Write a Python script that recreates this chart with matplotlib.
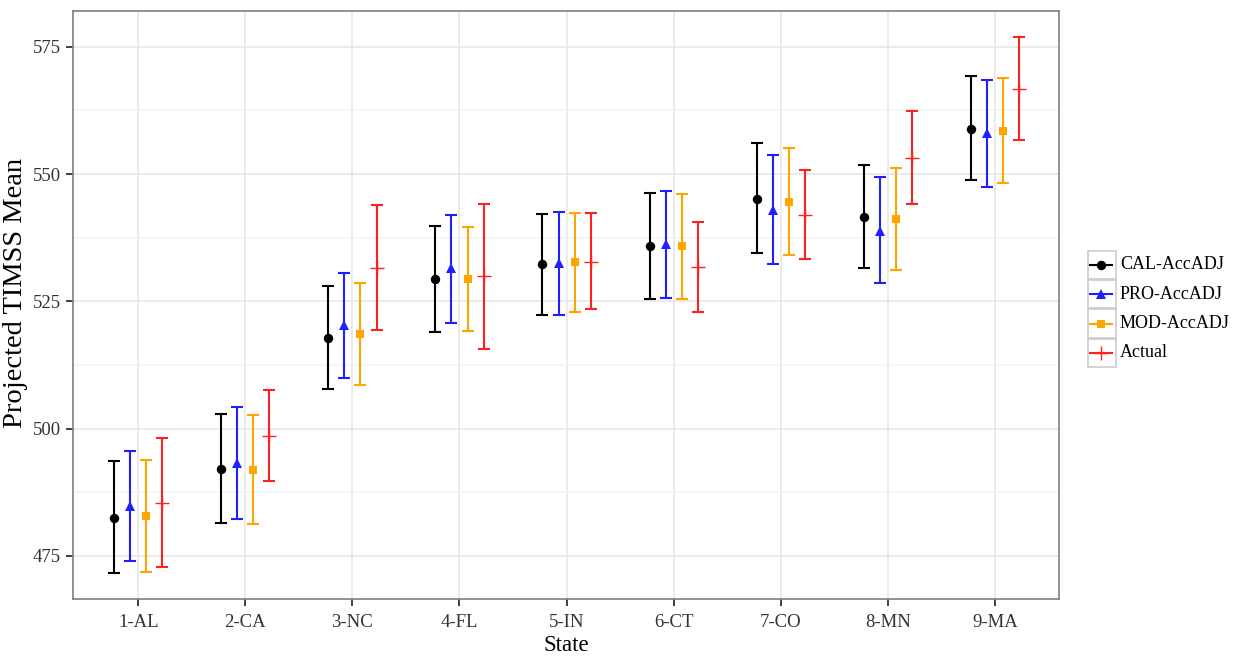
import matplotlib
matplotlib.use("Agg")
import matplotlib.pyplot as plt
from matplotlib.patches import Rectangle
from matplotlib.lines import Line2D
import numpy as np

plt.rcParams['font.family'] = ['Liberation Serif', 'DejaVu Serif']

states = ['1-AL', '2-CA', '3-NC', '4-FL', '5-IN', '6-CT', '7-CO', '8-MN', '9-MA']

# projected means with lower / upper interval ends
cal_mean = [482.5, 492.1, 517.8, 529.4, 532.3, 535.8, 545.1, 541.6, 558.9]
cal_low = [471.7, 481.5, 507.8, 518.9, 522.4, 525.5, 534.5, 531.5, 548.8]
cal_high = [493.6, 502.9, 528.1, 539.8, 542.1, 546.2, 556.1, 551.8, 569.3]

pro_mean = [484.7, 493.3, 520.4, 531.5, 532.5, 536.2, 543.0, 538.9, 558.0]
pro_low = [473.9, 482.2, 509.9, 520.8, 522.4, 525.7, 532.4, 528.5, 547.5]
pro_high = [495.5, 504.3, 530.5, 541.9, 542.5, 546.7, 553.8, 549.4, 568.4]

mod_mean = [482.9, 491.8, 518.6, 529.4, 532.7, 535.8, 544.5, 541.2, 558.5]
mod_low = [471.9, 481.3, 508.6, 519.1, 522.8, 525.5, 534.0, 531.1, 548.3]
mod_high = [493.8, 502.7, 528.6, 539.6, 542.3, 546.0, 555.2, 551.2, 568.8]

act_mean = [485.3, 498.5, 531.5, 529.9, 532.8, 531.7, 542.0, 553.2, 566.7]
act_low = [472.8, 489.6, 519.3, 515.6, 523.5, 522.8, 533.3, 544.2, 556.6]
act_high = [498.1, 507.6, 543.9, 544.2, 542.3, 540.6, 550.7, 562.3, 576.9]

series = [
    ('CAL-AccADJ', cal_mean, cal_low, cal_high, 'black', 'o', 6.8),
    ('PRO-AccADJ', pro_mean, pro_low, pro_high, '#1f1fff', '^', 7.8),
    ('MOD-AccADJ', mod_mean, mod_low, mod_high, '#ffa500', 's', 6.2),
    ('Actual', act_mean, act_low, act_high, '#ff2020', '+', 10.0),
]
offsets = [-0.225, -0.075, 0.075, 0.225]

W, H = 1248, 658
fig = plt.figure(figsize=(W / 100, H / 100), dpi=100)
ax = fig.add_axes([73 / W, 1 - 599 / H, (1059 - 73) / W, (599 - 10.7) / H])

x = np.arange(1, len(states) + 1)
for (name, m, lo, hi, col, mk, ms), off in zip(series, offsets):
    m = np.array(m)
    err = [m - np.array(lo), np.array(hi) - m]
    ax.errorbar(x + off, m, yerr=err, fmt='none', ecolor=col, elinewidth=1.5,
                capsize=4, capthick=1.5, zorder=3)
    ax.plot(x + off, m, linestyle='none', marker=mk, color=col, markersize=ms,
            markeredgewidth=1.0 if mk == '+' else 0, zorder=4)

ax.set_xlim(0.39, 9.6)
ax.set_ylim(466.5, 582.1)
ax.set_xticks(x)
ax.set_xticklabels(states)
ax.set_yticks([475, 500, 525, 550, 575])
ax.set_yticks([487.5, 512.5, 537.5, 562.5], minor=True)
ax.grid(True, which='major', color='#e5e5e5', linewidth=1.1)
ax.grid(True, which='minor', axis='y', color='#f2f2f2', linewidth=1.1)
ax.set_axisbelow(True)
for sp in ax.spines.values():
    sp.set_color('#7f7f7f')
    sp.set_linewidth(1.2)
ax.tick_params(which='major', length=5, width=1.3, color='#333333',
               labelcolor='#333333', labelsize=13.5, pad=4)
ax.tick_params(axis='x', which='major', pad=6)
ax.tick_params(which='minor', length=0)
ax.set_xlabel('State', fontsize=16.5, labelpad=3)
ax.set_ylabel('Projected TIMSS Mean', fontsize=20.5, labelpad=2)
ax.yaxis.set_label_coords(-0.046, 0.52)

# legend keys with grey boxes
lax = fig.add_axes([1087 / W, 1 - 369 / H, 160 / W, 119 / H])
lax.set_xlim(0, 160)
lax.set_ylim(119, 0)
lax.axis('off')
key_h = 29.4
for i, (name, m, lo, hi, col, mk, ms) in enumerate(series):
    y0 = i * key_h
    lax.add_patch(Rectangle((0.5, y0 + 0.5), 28, key_h - 1, facecolor='white',
                            edgecolor='#cccccc', linewidth=1.2))
    yc = y0 + key_h / 2
    lax.add_line(Line2D([3, 25], [yc, yc], color=col, linewidth=1.5))
    lax.plot([14], [yc], marker=mk, color=col, markersize=ms,
             markeredgewidth=1.0 if mk == '+' else 0)
    lax.text(33, yc, name, fontsize=13, va='center', ha='left', color='black')

fig.savefig('out.png', dpi=100)
